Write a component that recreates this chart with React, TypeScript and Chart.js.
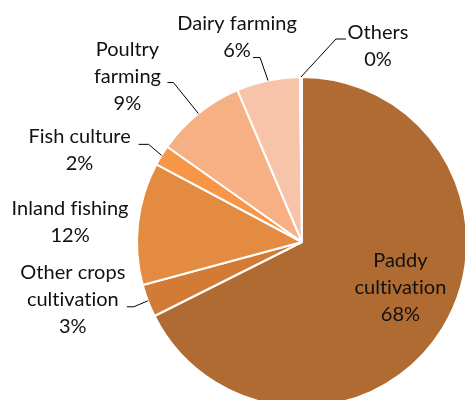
import React, { useEffect, useRef } from "react";
import { Chart, registerables } from "chart.js";

Chart.register(...registerables);

const categories = [
  "Paddy cultivation",
  "Other crops cultivation",
  "Inland fishing",
  "Fish culture",
  "Poultry farming",
  "Dairy farming",
  "Others",
];
const shares = [67.6, 3.2, 12.0, 2.0, 8.8, 6.2, 0.2];
const labelLines = [
  ["Paddy", "cultivation"],
  ["Other crops", "cultivation"],
  ["Inland fishing"],
  ["Fish culture"],
  ["Poultry", "farming"],
  ["Dairy farming"],
  ["Others"],
];
const colors = ["#B06B33", "#D27B37", "#E48B42", "#F79646", "#F7B083", "#F8C4A9", "#FBD9C6"];

// layout of labels: offset of text block centre from the arc's outer mid point, plus leader line
const labelLayout = [
  { dx: -42, dy: -41, leader: null },
  { dx: -75, dy: -1, leader: [-14, 6, -7] },
  { dx: -68, dy: -1, leader: null },
  { dx: -82, dy: -5, leader: [-13, -11, -10] },
  { dx: -71, dy: -37, leader: [-25, -31, -6] },
  { dx: -31, dy: -43, leader: [-8, -23, -7] },
  { dx: 77, dy: -31, leader: [35, -38, 10] },
];

const FONT = "20px Lato, 'Open Sans', sans-serif";
const LINE_H = 27;

const labelPlugin = {
  id: "pieLabels",
  afterDatasetsDraw(chart: any) {
    const ctx = chart.ctx;
    const meta = chart.getDatasetMeta(0);
    const total = shares.reduce((a, b) => a + b, 0);
    ctx.save();
    ctx.font = FONT;
    try {
      (ctx as any).letterSpacing = "0.01px";
    } catch (e) {}
    ctx.fillStyle = "#111";
    ctx.strokeStyle = "#000";
    ctx.lineWidth = 1;
    ctx.textAlign = "center";
    ctx.textBaseline = "middle";
    meta.data.forEach((arc: any, i: number) => {
      const p = arc.getProps(["x", "y", "startAngle", "endAngle", "outerRadius"], true);
      const mid = (p.startAngle + p.endAngle) / 2;
      const px = p.x + Math.cos(mid) * p.outerRadius;
      const py = p.y + Math.sin(mid) * p.outerRadius;
      const lay = labelLayout[i];
      const lines = [...labelLines[i], Math.round((shares[i] / total) * 100) + "%"];
      const cx = px + lay.dx;
      const cy = py + lay.dy;
      lines.forEach((t, k) => {
        ctx.fillText(t, cx, cy + (k - (lines.length - 1) / 2) * LINE_H);
      });
      if (lay.leader) {
        const [ex, ey, h] = lay.leader;
        ctx.beginPath();
        ctx.moveTo(px, py);
        ctx.lineTo(px + ex, py + ey);
        ctx.lineTo(px + ex + h, py + ey);
        ctx.stroke();
      }
    });
    ctx.restore();
  },
};

export default function App() {
  const ref = useRef<HTMLCanvasElement>(null);
  useEffect(() => {
    document.body.style.margin = "0";
    const chart = new Chart(ref.current!, {
      type: "pie",
      data: {
        labels: categories,
        datasets: [
          {
            data: shares,
            backgroundColor: colors,
            borderColor: "#ffffff",
            borderWidth: 2,
          },
        ],
      },
      options: {
        responsive: false,
        animation: false,
        layout: { padding: { left: 136, top: 76, right: 12, bottom: 12 } },
        plugins: { legend: { display: false }, tooltip: { enabled: false } },
      },
      plugins: [labelPlugin],
    });
    return () => chart.destroy();
  }, []);
  return (
    <div style={{ position: "fixed", left: 0, top: 0, width: 465, height: 400, overflow: "hidden", background: "#fff" }}>
      <canvas ref={ref} width={480} height={420} style={{ width: 480, height: 420 }} />
    </div>
  );
}
